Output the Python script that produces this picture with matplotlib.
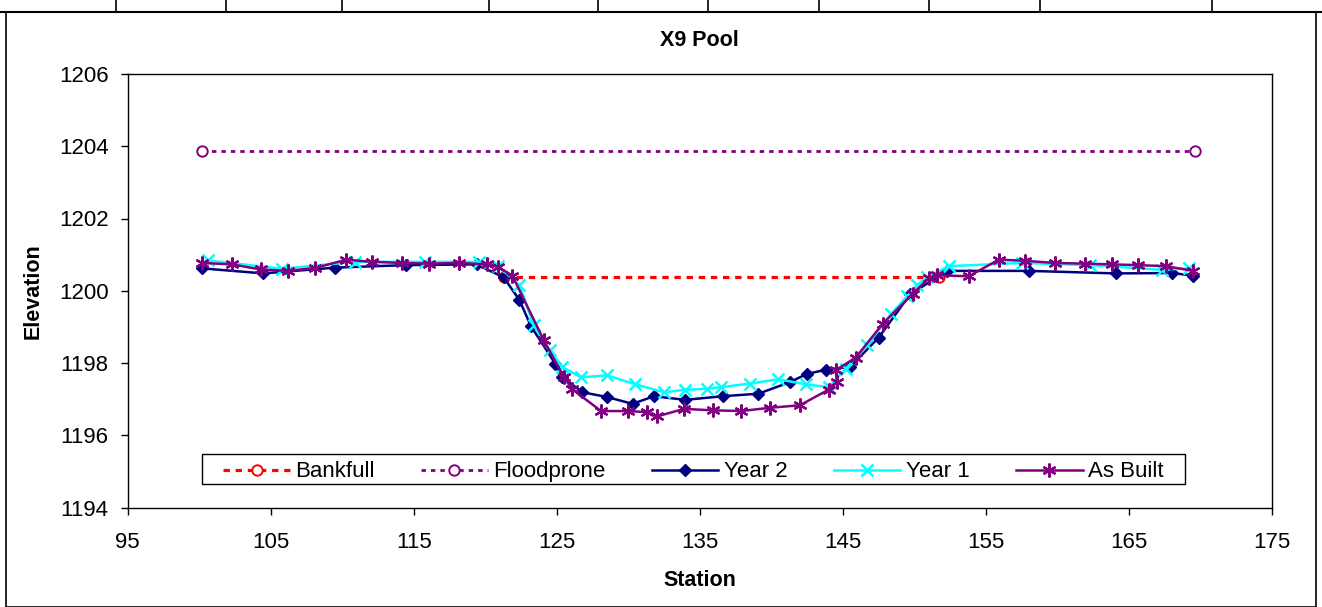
import matplotlib
matplotlib.use("Agg")
import matplotlib.pyplot as plt
from matplotlib.lines import Line2D
from matplotlib.patches import Rectangle

plt.rcParams['font.family'] = ['Liberation Sans', 'DejaVu Sans']

# ---------------- data ----------------
title = "X9 Pool"
x_label = "Station"
y_label = "Elevation"

bankfull_x = [121.3, 151.7]
bankfull_y = [1200.37, 1200.37]

floodprone_x = [100.2, 169.6]
floodprone_y = [1203.88, 1203.88]

year2_x = [100.2, 104.5, 109.5, 114.5, 119.4, 121.3, 122.4, 123.2, 124.9, 125.4,
           126.8, 128.5, 130.3, 131.8, 134.0, 136.6, 139.1, 141.3, 142.5, 143.8,
           145.5, 147.5, 149.7, 152.3, 158.0, 164.1, 168.0, 169.5]
year2_y = [1200.62, 1200.48, 1200.64, 1200.71, 1200.73, 1200.37, 1199.74, 1199.02, 1197.98, 1197.61,
           1197.19, 1197.06, 1196.87, 1197.08, 1196.98, 1197.08, 1197.15, 1197.47, 1197.70, 1197.81,
           1197.89, 1198.70, 1199.90, 1200.55, 1200.55, 1200.48, 1200.49, 1200.42]

year1_x = [100.6, 105.8, 110.9, 115.8, 119.6, 120.9, 122.4, 123.4, 124.5, 125.4,
           126.7, 128.5, 130.5, 132.5, 134.0, 135.5, 136.5, 138.5, 140.5, 142.4,
           144.0, 145.2, 146.7, 148.4, 149.5, 150.2, 150.9, 152.4, 157.5, 162.3,
           167.3, 169.2]
year1_y = [1200.84, 1200.61, 1200.80, 1200.80, 1200.80, 1200.68, 1200.15, 1199.04, 1198.35, 1197.89,
           1197.60, 1197.66, 1197.41, 1197.19, 1197.26, 1197.29, 1197.33, 1197.43, 1197.55, 1197.41,
           1197.33, 1197.84, 1198.49, 1199.37, 1199.85, 1200.15, 1200.38, 1200.68, 1200.77, 1200.71,
           1200.58, 1200.62]

asbuilt_x = [100.2, 102.3, 104.3, 106.2, 108.1, 110.3, 112.1, 114.2, 116.1, 118.2,
             120.1, 120.9, 121.9, 124.1, 125.5, 126.1, 128.1, 130.0, 131.3, 132.0,
             133.9, 135.9, 137.9, 139.9, 142.0, 144.0, 144.6, 144.5, 145.9, 147.8,
             149.9, 151.0, 151.6, 153.8, 155.9, 157.7, 159.8, 161.9, 163.8, 165.6,
             167.6, 169.5]
asbuilt_y = [1200.77, 1200.73, 1200.59, 1200.55, 1200.63, 1200.86, 1200.80, 1200.77, 1200.75, 1200.77,
             1200.73, 1200.66, 1200.42, 1198.63, 1197.61, 1197.27, 1196.67, 1196.67, 1196.64, 1196.52,
             1196.73, 1196.69, 1196.67, 1196.76, 1196.83, 1197.26, 1197.47, 1197.80, 1198.15, 1199.09,
             1199.92, 1200.34, 1200.43, 1200.40, 1200.86, 1200.83, 1200.77, 1200.75, 1200.73, 1200.71,
             1200.68, 1200.55]

x_ticks = [95, 105, 115, 125, 135, 145, 155, 165, 175]
y_ticks = [1194, 1196, 1198, 1200, 1202, 1204, 1206]
top_strip_x = [116, 226, 342, 489, 598, 708, 819, 929, 1040, 1212]

# ---------------- figure ----------------
W, H = 1322, 607
fig = plt.figure(figsize=(W / 100, H / 100), dpi=100)
fig.patch.set_facecolor('white')

# spreadsheet strip and chart border
fig.add_artist(Line2D([0, 1], [1 - 11.5 / H, 1 - 11.5 / H], transform=fig.transFigure,
                      color='black', lw=1.5))
for xp in top_strip_x:
    fig.add_artist(Line2D([xp / W, xp / W], [1, 1 - 11.5 / H], transform=fig.transFigure,
                          color='black', lw=1.2))
fig.add_artist(Rectangle((6 / W, 0), (1316 - 6) / W, 1 - 12 / H, transform=fig.transFigure,
                         fill=False, edgecolor='black', lw=1.2))

AL, AR, AT, AB = 127.5, 1272.0, 74.0, 507.5
ax = fig.add_axes([AL / W, 1 - AB / H, (AR - AL) / W, (AB - AT) / H])
AW, AH = AR - AL, AB - AT

ax.plot(bankfull_x, bankfull_y, color='#FF0000', lw=2.3, linestyle=(0, (2.0, 1.8)),
        marker='o', markersize=7.5, markerfacecolor='white', markeredgecolor='#FF0000',
        markeredgewidth=1.4, label='Bankfull', zorder=2)
ax.plot(floodprone_x, floodprone_y, color='#800080', lw=2.0, linestyle=(0, (1.6, 1.8)),
        marker='o', markersize=7.5, markerfacecolor='white', markeredgecolor='#800080',
        markeredgewidth=1.4, label='Floodprone', zorder=2)
ax.plot(year2_x, year2_y, color='#000080', lw=1.8, marker='D', markersize=6.5,
        markerfacecolor='#000080', markeredgecolor='#000080', label='Year 2', zorder=3)
ax.plot(year1_x, year1_y, color='#00FFFF', lw=1.8, marker='x', markersize=9,
        markeredgewidth=1.8, label='Year 1', zorder=4)
ax.plot(asbuilt_x, asbuilt_y, color='#800080', lw=1.8, marker=(6, 2, 0), markersize=10,
        markeredgewidth=1.6, label='As Built', zorder=5)

ax.set_xlim(95, 175)
ax.set_ylim(1194, 1206)
ax.set_xticks(x_ticks)
ax.set_yticks(y_ticks)
ax.tick_params(axis='both', direction='out', length=5, width=1, labelsize=16, color='black')
ax.tick_params(axis='x', pad=12.5)
ax.tick_params(axis='y', pad=8.6)
for s in ax.spines.values():
    s.set_color('black')
    s.set_linewidth(1.0)

ax.set_title(title, fontsize=15.5, fontweight='bold', y=1 + (AT - 40) / AH, va='center', pad=0)
ax.set_xlabel(x_label, fontsize=15.5, fontweight='bold', va='center', ha='center')
ax.xaxis.set_label_coords(0.5, -(580 - AB) / AH)
ax.set_ylabel(y_label, fontsize=15.5, fontweight='bold', va='center', ha='center')
ax.yaxis.set_label_coords(-(AL - 33) / AW, 0.5)

# legend: frame drawn separately, entries spread over the inner span
LB_L, LB_R, LB_T, LB_B = 202.0, 1185.0, 454.3, 484.3
ax.add_patch(Rectangle(((LB_L - AL) / AW, (AB - LB_B) / AH), (LB_R - LB_L) / AW,
                       (LB_B - LB_T) / AH, transform=ax.transAxes, fill=True,
                       facecolor='white', edgecolor='black', lw=1.0, zorder=6))
leg = ax.legend(loc='center left', bbox_to_anchor=((221 - AL) / AW, (AB - LB_B - 2.5) / AH,
                                                   (1166 - 221) / AW, (LB_B - LB_T) / AH),
                mode='expand', ncol=5, fontsize=16, frameon=False,
                handlelength=3.0, handletextpad=0.25, borderpad=0.1,
                borderaxespad=0)
leg.set_zorder(7)

fig.savefig('out.png', dpi=100, facecolor='white')
